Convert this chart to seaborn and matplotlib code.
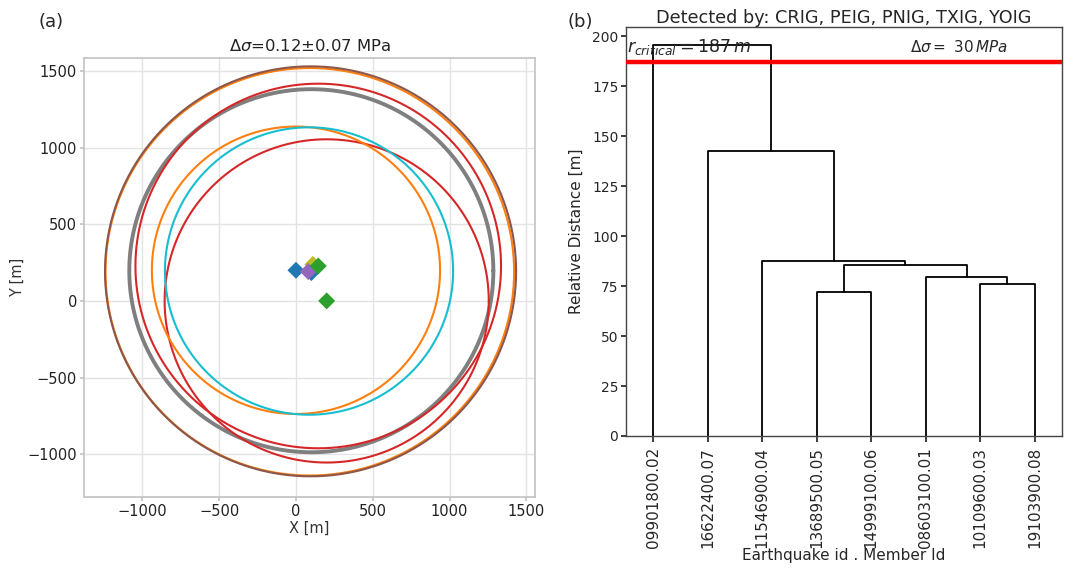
import numpy as np
import pandas as pd
import matplotlib
matplotlib.use("Agg")
import matplotlib.pyplot as plt
import seaborn as sns

# ---------------- data: panel (a) ----------------
circle_cx = [90, 95, 100, 145, 200, 0, 85]
circle_cy = [190, 193, 197, 228, 0, 200, 195]
circle_r = [1330, 1338, 1185, 1190, 1055, 938, 938]
circle_colors = ["#ff7f0e", "#8c564b", "#7f7f7f", "#d62728", "#d62728", "#ff7f0e", "#17becf"]
circle_lw = [1.5, 1.5, 2.8, 1.5, 1.5, 1.5, 1.5]

event_x = [0, 100, 110, 80, 145, 200]
event_y = [200, 185, 238, 192, 228, 0]
event_colors = ["#1f77b4", "#1f77b4", "#bcbd22", "#9467bd", "#2ca02c", "#2ca02c"]

# ---------------- data: panel (b) ----------------
leaf_labels = ["09901800.02", "16622400.07", "11546900.04", "13689500.05",
               "14999100.06", "08603100.01", "10109600.03", "19103900.08"]
merge_a = [3, 6, 5, 8, 2, 1, 0]
merge_b = [4, 7, 9, 10, 11, 12, 13]
merge_h = [72, 76, 79.5, 85.5, 87.5, 142.5, 195.5]
r_critical = 187

sns.set_theme(style="white")
plt.rcParams["font.family"] = ["DejaVu Sans"]
plt.rcParams["mathtext.fontset"] = "dejavusans"

fig = plt.figure(figsize=(10.67, 5.68), dpi=100)
ax1 = fig.add_axes([0.0787, 0.125, 0.4227, 0.773])
ax2 = fig.add_axes([0.5867, 0.2324, 0.4086, 0.72])

# ---- panel (a) ----
theta = np.linspace(0, 2 * np.pi, 361)
for cx, cy, r, c, lw in zip(circle_cx, circle_cy, circle_r, circle_colors, circle_lw):
    df = pd.DataFrame({"x": cx + r * np.cos(theta), "y": cy + r * np.sin(theta)})
    sns.lineplot(data=df, x="x", y="y", sort=False, estimator=None, color=c, lw=lw, ax=ax1)
for ex, ey, c in zip(event_x, event_y, event_colors):
    sns.scatterplot(x=[ex], y=[ey], marker="D", s=75, color=c, edgecolor="none", ax=ax1, zorder=5)

ax1.set_xlim(-1380, 1556)
ax1.set_ylim(-1280, 1586)
ax1.set_xticks([-1000, -500, 0, 500, 1000, 1500])
ax1.set_yticks([-1000, -500, 0, 500, 1000, 1500])
ax1.grid(True, color="#e3e3e3", lw=1)
for s in ax1.spines.values():
    s.set_color("#c4c4c4")
ax1.tick_params(axis="both", which="both", length=3, color="#c4c4c4", labelsize=10.5, pad=2,
                bottom=True, left=True, labelcolor="#222222")
ax1.set_xlabel("X [m]", fontsize=10.5, labelpad=1, color="#333333")
ax1.set_ylabel("Y [m]", fontsize=10.5, labelpad=2, color="#333333")
ax1.set_title(r"$\Delta\sigma$=0.12$\pm$0.07 MPa", fontsize=11.8, pad=5, color="#222222")

# ---- panel (b): dendrogram ----
n = len(leaf_labels)
node_x = [5 + 10 * i for i in range(n)]
node_h = [0.0] * n
for a, b, h in zip(merge_a, merge_b, merge_h):
    xa, xb = node_x[a], node_x[b]
    seg = pd.DataFrame({"x": [xa, xa, xb, xb], "y": [node_h[a], h, h, node_h[b]]})
    sns.lineplot(data=seg, x="x", y="y", sort=False, estimator=None, color="black", lw=1.3, ax=ax2)
    node_x.append((xa + xb) / 2)
    node_h.append(h)

ax2.axhline(r_critical, color="red", lw=3.2, zorder=4)
ax2.set_xlim(0, 10 * n)
ax2.set_ylim(0, 204.5)
ax2.set_xticks([5 + 10 * i for i in range(n)])
ax2.set_xticklabels(leaf_labels, rotation=90, fontsize=10.9)
ax2.set_yticks(np.arange(0, 201, 25))
ax2.tick_params(axis="y", labelsize=10, length=3.5, left=True, pad=2)
ax2.tick_params(axis="x", length=4, bottom=True, pad=4)
for s in ax2.spines.values():
    s.set_color("#444444")
    s.set_linewidth(1.0)
ax2.set_xlabel("Earthquake id . Member Id", fontsize=11, labelpad=0)
ax2.set_ylabel("Relative Distance [m]", fontsize=11, labelpad=6)
ax2.set_title("Detected by: CRIG, PEIG, PNIG, TXIG, YOIG", fontsize=12.7, pad=3)
ax2.text(0.2, 194.3, r"$r_{critical} = %d\,m$" % r_critical, fontsize=12.6, va="center", ha="left", zorder=6)
ax2.text(52.2, 194.3, r"$\Delta\sigma = \ 30\,MPa$", fontsize=10.9, va="center", ha="left", zorder=6)

fig.text(0.036, 0.962, "(a)", fontsize=13, ha="left", va="center")
fig.text(0.532, 0.962, "(b)", fontsize=13, ha="left", va="center")

fig.savefig("out.png", dpi=100)
